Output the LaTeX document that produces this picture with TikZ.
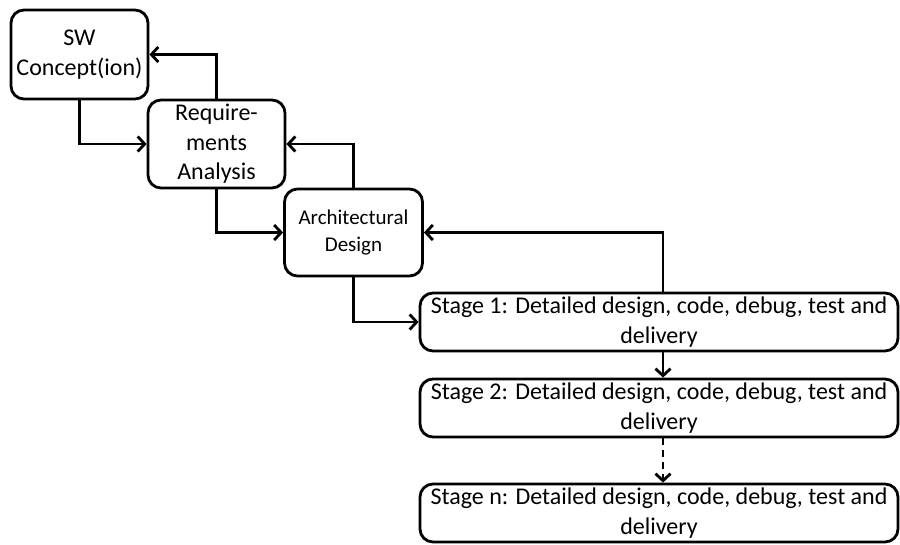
\documentclass[tikz,border=0pt]{standalone}
\usepackage{fontspec}
\setmainfont{Carlito}
\usetikzlibrary{arrows.meta,calc}
\begin{document}
\begin{tikzpicture}[x=1pt,y=-1pt,
  box/.style={draw,line width=2.8pt,rounded corners=13pt,inner sep=0pt,align=center},
  bigtxt/.style={font=\fontsize{24}{29.5}\selectfont},
  smalltxt/.style={font=\fontsize{21}{27}\selectfont},
  conn/.style={line width=2.8pt,-{Straight Barb[length=7pt,width=15pt,line width=2.8pt]}}]
\useasboundingbox (0,0) rectangle (900,544);
\node[box,bigtxt,minimum width=137pt,minimum height=89pt] (sw) at (79.5,54.5) {SW\\Concept(ion)};
\node[box,bigtxt,minimum width=137pt,minimum height=88pt] (req) at (216.5,144) {Require-\\ments\\Analysis};
\node[box,smalltxt,minimum width=138pt,minimum height=87pt] (arch) at (353.5,232.5) {Architectural\\Design};
\node[box,bigtxt,minimum width=478pt,minimum height=58pt] (s1) at (659,322) {Stage 1: Detailed design, code, debug, test and\\delivery};
\node[box,bigtxt,minimum width=478pt,minimum height=58pt] (s2) at (659,408) {Stage 2: Detailed design, code, debug, test and\\delivery};
\node[box,bigtxt,minimum width=478pt,minimum height=58pt] (sn) at (659,513) {Stage n: Detailed design, code, debug, test and\\delivery};
\draw[conn] (sw.south) |- (req.west);
\draw[conn] (req.north) |- (sw.east);
\draw[conn] (req.south) |- (arch.west);
\draw[conn] (arch.north) |- (req.east);
\draw[conn] (arch.south) |- (s1.west);
\draw[conn] ($(s1.north)+(4,0)$) |- (arch.east);
\draw[conn] ($(s1.south)+(4,0)$) -- ($(s2.north)+(4,0)$);
\draw[conn,dash pattern=on 7pt off 5pt] ($(s2.south)+(4,0)$) -- ($(sn.north)+(4,0)$);
\end{tikzpicture}
\end{document}
